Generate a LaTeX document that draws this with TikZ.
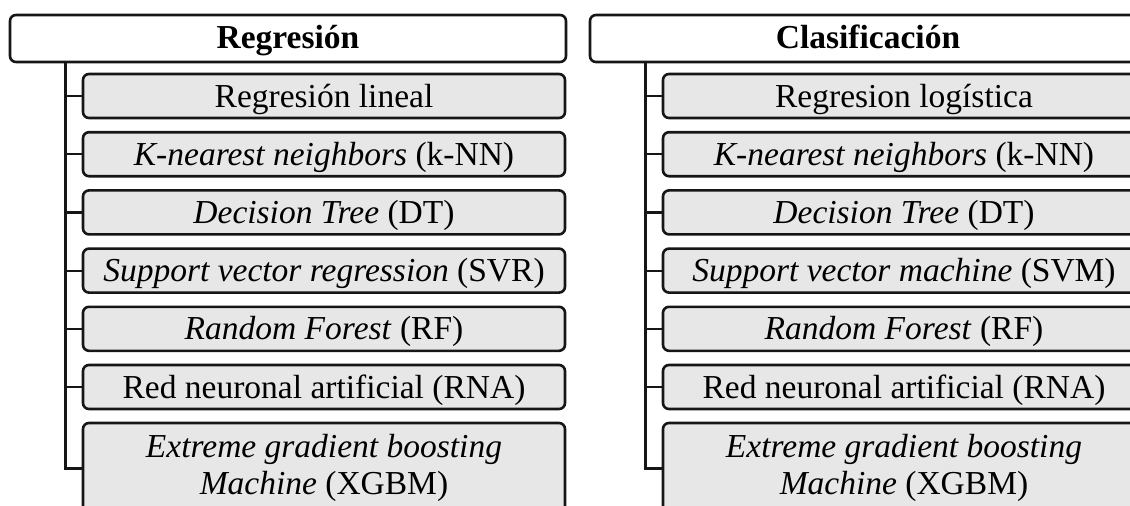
\documentclass[tikz,border=0pt]{standalone}
\usepackage{fontspec}
\setmainfont{Liberation Serif}
\definecolor{lineC}{RGB}{22,22,22}
\definecolor{itemC}{RGB}{232,231,232}
\begin{document}
\begin{tikzpicture}[x=1pt,y=-1pt,
  hdr/.style={draw=lineC, line width=2.6pt, rounded corners=6pt, fill=white,
    minimum width=556pt, minimum height=47pt, inner sep=0pt,
    text height=26pt, text depth=7pt,
    font=\fontsize{33.5}{36.5}\selectfont\bfseries},
  itembase/.style={draw=lineC, line width=2.6pt, rounded corners=6pt, fill=itemC,
    minimum width=482pt, minimum height=44pt, inner sep=0pt, align=center,
    font=\fontsize{33.5}{36.5}\selectfont},
  item/.style={itembase, text height=28pt, text depth=6pt},
  tall/.style={itembase, minimum height=90pt},
  trunk/.style={draw=lineC, line width=3pt},
  branch/.style={draw=lineC, line width=2.2pt}]
\useasboundingbox (0,0) rectangle (1130,506);
\clip (0,0) rectangle (1130,506);

% Regression column
\node[hdr] (hL) at (288,38.5) {Regresión};
\node[item] (l1) at (324,96)    {Regresión lineal};
\node[item] (l2) at (324,154.2) {\textit{K-nearest neighbors} (k-NN)};
\node[item] (l3) at (324,212.4) {\textit{Decision Tree} (DT)};
\node[item] (l4) at (324,270.6) {\textit{Support vector regression} (SVR)};
\node[item] (l5) at (324,328.8) {\textit{Random Forest} (RF)};
\node[item] (l6) at (324,387)   {Red neuronal artificial (RNA)};
\node[tall] (l7) at (324,468) {\textit{Extreme gradient boosting}\\\textit{Machine} (XGBM)};

% Classification column
\node[hdr] (hR) at (868,38.5) {Clasificación};
\node[item] (r1) at (904,96)    {Regresion logística};
\node[item] (r2) at (904,154.2) {\textit{K-nearest neighbors} (k-NN)};
\node[item] (r3) at (904,212.4) {\textit{Decision Tree} (DT)};
\node[item] (r4) at (904,270.6) {\textit{Support vector machine} (SVM)};
\node[item] (r5) at (904,328.8) {\textit{Random Forest} (RF)};
\node[item] (r6) at (904,387)   {Red neuronal artificial (RNA)};
\node[tall] (r7) at (904,468) {\textit{Extreme gradient boosting}\\\textit{Machine} (XGBM)};

% Tree connectors
\coordinate (tL) at (65,62);
\coordinate (tR) at (645,62);
\draw[trunk] (tL) |- (l7.west);
\draw[trunk] (tR) |- (r7.west);
\foreach \i in {1,...,6} {
  \draw[branch] (tL |- l\i.west) -- (l\i.west);
  \draw[branch] (tR |- r\i.west) -- (r\i.west);
}
\end{tikzpicture}
\end{document}
